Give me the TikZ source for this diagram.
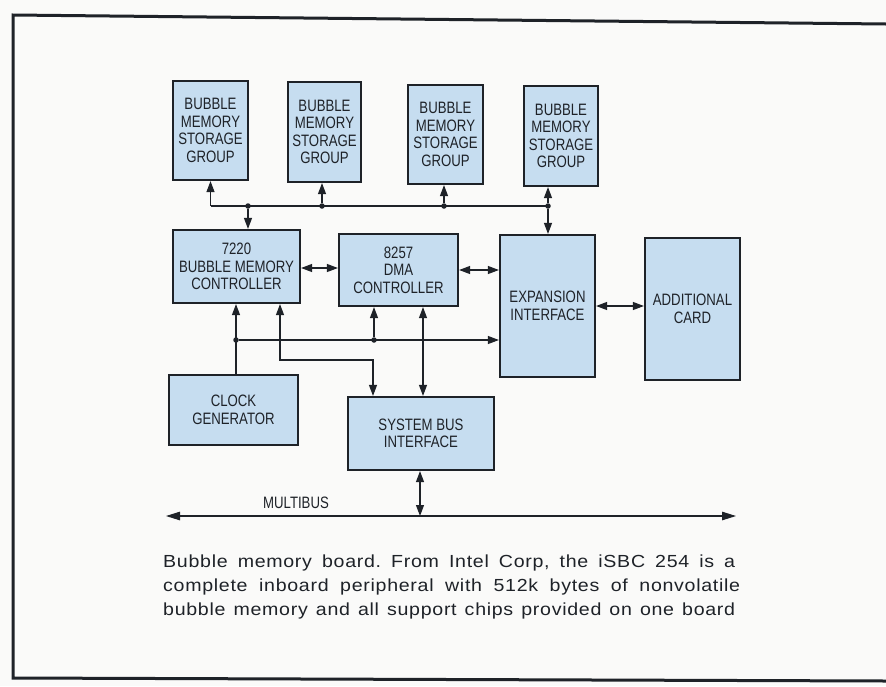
\documentclass[tikz,border=0pt]{standalone}
\usepackage{fontspec}
\setmainfont{Liberation Sans}
\newfontfamily\boxfont[FakeStretch=0.8]{Liberation Sans}
\newfontfamily\capfont[FakeStretch=1.12,LetterSpace=4]{Liberation Sans}
\usetikzlibrary{arrows.meta}
\definecolor{boxfill}{RGB}{198,221,240}
\definecolor{ink}{RGB}{30,34,40}
\definecolor{paper}{RGB}{250,250,249}
\tikzset{
  blk/.style={draw=ink, line width=2.2pt, fill=boxfill, inner sep=0pt, align=center,
    font=\boxfont\fontsize{16.5}{17.5}\selectfont, text=ink},
  conn/.style={draw=ink, line width=1.1pt, >={Triangle[length=11pt,width=8pt]}},
  busline/.style={draw=ink, line width=1.1pt, >={Triangle[length=14pt,width=8.5pt]}},
  jdot/.style={circle, fill=ink, inner sep=0pt, minimum size=5.5pt},
  lbl/.style={font=\boxfont\fontsize{16.5}{17.5}\selectfont, text=ink, inner sep=0pt},
  captxt/.style={font=\capfont\fontsize{17.5}{24}\selectfont, text=ink, inner sep=0pt, anchor=base west}
}
\begin{document}
\frenchspacing
\begin{tikzpicture}[x=1pt,y=-1pt]
\useasboundingbox (0,0) rectangle (886,686);
\fill[paper] (0,0) rectangle (886,686);
% frame
\draw[ink, line width=3pt] (886,24) -- (13,15) -- (13,678) -- (886,681);

% boxes
\node[blk, minimum width=75pt, minimum height=99pt]  (bms1) at (210.5,130.5) {BUBBLE\\MEMORY\\STORAGE\\GROUP};
\node[blk, minimum width=73pt, minimum height=100pt] (bms2) at (324.5,132)   {BUBBLE\\MEMORY\\STORAGE\\GROUP};
\node[blk, minimum width=75pt, minimum height=99pt]  (bms3) at (445.5,134.5) {BUBBLE\\MEMORY\\STORAGE\\GROUP};
\node[blk, minimum width=74pt, minimum height=100pt] (bms4) at (561,136)     {BUBBLE\\MEMORY\\STORAGE\\GROUP};
\node[blk, minimum width=127pt, minimum height=73pt] (ctl) at (236.5,266.5) {7220\\BUBBLE MEMORY\\CONTROLLER};
\node[blk, minimum width=119pt, minimum height=72pt] (dma) at (398.5,270)   {8257\\DMA\\CONTROLLER};
\node[blk, minimum width=95pt, minimum height=142pt] (exp) at (547.5,306)   {EXPANSION\\INTERFACE};
\node[blk, minimum width=95pt, minimum height=142pt] (add) at (692.5,309)   {ADDITIONAL\\CARD};
\node[blk, minimum width=129pt, minimum height=70pt] (clk) at (233.5,410)   {CLOCK\\GENERATOR};
\node[blk, minimum width=146pt, minimum height=73pt] (sbi) at (421,433.5)   {SYSTEM BUS\\INTERFACE};

% storage bus
\coordinate (busL) at (210.5,206);
\coordinate (busR) at (548,206);
\node[jdot] (j1) at (248,206) {};
\node[jdot] (j2) at (322,206) {};
\node[jdot] (j3) at (444,206) {};
\node[jdot] (j4) at (548,206) {};
\draw[conn] (busL) -- (busR);
\draw[conn,->] (busL) -- (bms1.south);
\draw[conn,->] (j2) -- (bms2.south -| j2);
\draw[conn,->] (j3) -- (bms3.south -| j3);
\draw[conn,->] (j4) -- (bms4.south -| j4);
\draw[conn,->] (j1) -- (ctl.north -| j1);
\draw[conn,->] (j4) -- (exp.north -| j4);

% middle row
\coordinate (y268) at (0,268);
\draw[conn,<->] (ctl.east |- y268) -- (dma.west |- y268);
\draw[conn,<->] (dma.east) -- (exp.west |- dma.east);
\draw[conn,<->] (exp.east) -- (add.west |- exp.east);

% clock distribution
\node[jdot] (jc) at (236,340) {};
\node[jdot] (jd) at (374,340) {};
\draw[conn,->] (clk.north -| jc) -- (ctl.south -| jc);
\draw[conn,->] (jc) -- (exp.west |- jc);
\draw[conn,->] (jd) -- (dma.south -| jd);

% controller to system bus interface
\coordinate (ka) at (280,360);
\coordinate (kb) at (373,360);
\draw[conn,<->] (ctl.south -| ka) -- (ka) -- (kb) -- (sbi.north -| kb);
\coordinate (kc) at (423,0);
\draw[conn,<->] (dma.south -| kc) -- (sbi.north -| kc);

% multibus
\coordinate (mbL) at (166,516);
\coordinate (mbR) at (736,516);
\coordinate (mb) at (420,516);
\draw[busline,<->] (mbL) -- (mbR);
\draw[conn,<->] (sbi.south -| mb) -- (mb);
\node[lbl] (mblbl) at (296,503) {MULTIBUS};

% caption
\node[captxt] (cap1) at (163,567) {\makebox[572pt][s]{Bubble memory board. From Intel Corp, the iSBC 254 is a}};
\node[captxt] (cap2) at (163,591) {\makebox[577pt][s]{complete inboard peripheral with 512k bytes of nonvolatile}};
\node[captxt] (cap3) at (163,615) {\makebox[572pt][s]{bubble memory and all support chips provided on one board}};
\end{tikzpicture}
\end{document}
